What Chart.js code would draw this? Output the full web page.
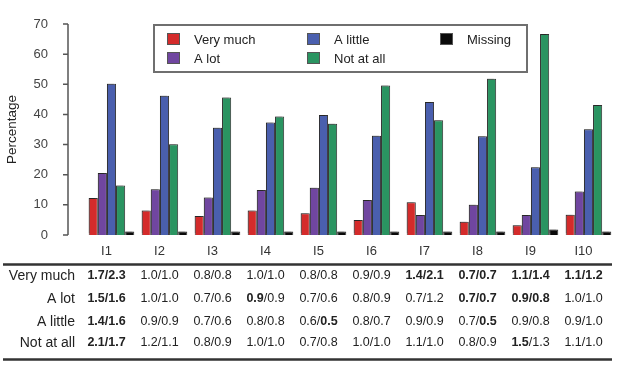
<!DOCTYPE html>
<html lang="en">
<head>
    <meta charset="UTF-8" />
    <title>Percentage by item</title>
    <script src="https://cdn.jsdelivr.net/npm/chart.js@4.4.1/dist/chart.umd.min.js"></script>
    <style>
        html, body { margin: 0; padding: 0; background: #fff; }
        #wrap { width: 618px; height: 367px; }
    </style>
</head>
<body>
    <div id="wrap"><canvas id="barChart"></canvas></div>

    <script>
        // categories and series (percent)
        const items = ['I1', 'I2', 'I3', 'I4', 'I5', 'I6', 'I7', 'I8', 'I9', 'I10'];
        const veryMuch = [12.3, 8.1, 6.3, 8.1, 7.2, 5.0, 10.9, 4.4, 3.2, 6.7];
        const aLot = [20.6, 15.2, 12.4, 14.9, 15.7, 11.6, 6.6, 10.0, 6.6, 14.4];
        const aLittle = [50.2, 46.2, 35.6, 37.3, 39.8, 32.9, 44.1, 32.8, 22.5, 35.1];
        const notAtAll = [16.4, 30.1, 45.6, 39.3, 36.9, 49.6, 38.1, 51.8, 66.7, 43.1];
        const missing = [1.2, 1.2, 1.2, 1.2, 1.2, 1.2, 1.2, 1.2, 1.8, 1.2];
        const yTicks = [0, 10, 20, 30, 40, 50, 60, 70];

        // table under the chart, "b" marks the bold half of a cell
        const rowLabels = ['Very much', 'A lot', 'A little', 'Not at all'];
        const veryMuchRatio = ['1.7/2.3', '1.0/1.0', '0.8/0.8', '1.0/1.0', '0.8/0.8', '0.9/0.9', '1.4/2.1', '0.7/0.7', '1.1/1.4', '1.1/1.2'];
        const aLotRatio = ['1.5/1.6', '1.0/1.0', '0.7/0.6', '0.9/0.9', '0.7/0.6', '0.8/0.9', '0.7/1.2', '0.7/0.7', '0.9/0.8', '1.0/1.0'];
        const aLittleRatio = ['1.4/1.6', '0.9/0.9', '0.7/0.6', '0.8/0.8', '0.6/0.5', '0.8/0.7', '0.9/0.9', '0.7/0.5', '0.9/0.8', '0.9/1.0'];
        const notAtAllRatio = ['2.1/1.7', '1.2/1.1', '0.8/0.9', '1.0/1.0', '0.7/0.8', '1.0/1.0', '1.1/1.0', '0.8/0.9', '1.5/1.3', '1.1/1.0'];
        const veryMuchBold = ['bb', '--', '--', '--', '--', '--', 'bb', 'bb', 'bb', 'bb'];
        const aLotBold = ['bb', '--', '--', 'b-', '--', '--', '--', 'bb', 'bb', '--'];
        const aLittleBold = ['bb', '--', '--', '--', '-b', '--', '--', '-b', '--', '--'];
        const notAtAllBold = ['bb', '--', '--', '--', '--', '--', '--', '--', 'b-', '--'];

        const FONT = '"Liberation Sans", Arial, sans-serif';
        const LABEL_SHIFT = -5;

        // legend box, laid out column by column
        const legendPlugin = {
            id: 'boxLegend',
            afterDraw(chart) {
                const ctx = chart.ctx;
                ctx.save();
                ctx.strokeStyle = '#6f6f6f';
                ctx.lineWidth = 2;
                ctx.strokeRect(154, 25, 373, 47);
                const cols = [167, 307, 440];
                const rows = [39, 58];
                ctx.font = '13px ' + FONT;
                ctx.textBaseline = 'middle';
                chart.data.datasets.forEach((ds, i) => {
                    const x = cols[Math.floor(i / 2)];
                    const y = rows[i % 2];
                    ctx.fillStyle = ds.backgroundColor;
                    ctx.fillRect(x, y - 6, 13, 12);
                    ctx.strokeStyle = '#555';
                    ctx.lineWidth = 1;
                    ctx.strokeRect(x + 0.5, y - 5.5, 12, 11);
                    ctx.fillStyle = '#222';
                    ctx.fillText(ds.label, x + 27, y + 1);
                });
                ctx.restore();
            }
        };

        // y axis line drawn left of the plot, with outward ticks
        const axisPlugin = {
            id: 'leftAxis',
            afterDraw(chart) {
                const ctx = chart.ctx;
                const y = chart.scales.y;
                const ax = 68;
                ctx.save();
                ctx.strokeStyle = '#555';
                ctx.lineWidth = 1.5;
                ctx.beginPath();
                ctx.moveTo(ax, y.getPixelForValue(70));
                ctx.lineTo(ax, y.getPixelForValue(0));
                yTicks.forEach(t => {
                    const py = y.getPixelForValue(t);
                    ctx.moveTo(ax - 5, py);
                    ctx.lineTo(ax, py);
                });
                ctx.stroke();
                ctx.restore();
            }
        };

        const tablePlugin = {
            id: 'ratioTable',
            afterDraw(chart) {
                const ctx = chart.ctx;
                const x = chart.scales.x;
                const values = [veryMuchRatio, aLotRatio, aLittleRatio, notAtAllRatio];
                const bolds = [veryMuchBold, aLotBold, aLittleBold, notAtAllBold];
                const rowY = [276, 299, 322, 343];
                ctx.save();
                ctx.strokeStyle = '#333';
                ctx.lineWidth = 2.5;
                ctx.beginPath();
                ctx.moveTo(3, 264.5); ctx.lineTo(612, 264.5);
                ctx.moveTo(3, 359.5); ctx.lineTo(612, 359.5);
                ctx.stroke();
                ctx.fillStyle = '#222';
                ctx.textBaseline = 'middle';
                rowLabels.forEach((lab, r) => {
                    ctx.font = '14px ' + FONT;
                    ctx.textAlign = 'right';
                    ctx.fillText(lab, 75, rowY[r]);
                    ctx.textAlign = 'left';
                    values[r].forEach((v, i) => {
                        const parts = v.split('/');
                        const segs = [
                            { t: parts[0], b: bolds[r][i][0] === 'b' },
                            { t: '/', b: bolds[r][i] === 'bb' },
                            { t: parts[1], b: bolds[r][i][1] === 'b' }
                        ];
                        let w = 0;
                        segs.forEach(s => {
                            ctx.font = (s.b ? 'bold ' : '') + '12.5px ' + FONT;
                            s.w = ctx.measureText(s.t).width;
                            w += s.w;
                        });
                        let px = x.getPixelForValue(i) + LABEL_SHIFT - w / 2;
                        segs.forEach(s => {
                            ctx.font = (s.b ? 'bold ' : '') + '12.5px ' + FONT;
                            ctx.fillText(s.t, px, rowY[r]);
                            px += s.w;
                        });
                    });
                });
                ctx.restore();
            }
        };

        const barShadow = {
            id: 'barShadow',
            beforeDatasetsDraw(chart) {
                const ctx = chart.ctx;
                ctx.save();
                ctx.shadowColor = 'rgba(0,0,0,0.22)';
                ctx.shadowOffsetX = -2;
                ctx.shadowOffsetY = -2;
                ctx.shadowBlur = 0;
            },
            afterDatasetsDraw(chart) {
                chart.ctx.restore();
            }
        };

        function series(label, data, color) {
            return {
                label: label,
                data: data,
                backgroundColor: color,
                borderColor: '#333',
                borderWidth: 1,
                barPercentage: 1,
                categoryPercentage: 0.86
            };
        }

        document.addEventListener('DOMContentLoaded', function () {
            const ctx = document.getElementById('barChart').getContext('2d');
            new Chart(ctx, {
                type: 'bar',
                data: {
                    labels: items,
                    datasets: [
                        series('Very much', veryMuch, '#d42b2b'),
                        series('A lot', aLot, '#7046a0'),
                        series('A little', aLittle, '#4a5fae'),
                        series('Not at all', notAtAll, '#2a9461'),
                        series('Missing', missing, '#0a0a0a')
                    ]
                },
                options: {
                    responsive: true,
                    maintainAspectRatio: false,
                    animation: false,
                    layout: { padding: { top: 24, right: 3, left: 0, bottom: 0 } },
                    plugins: {
                        legend: { display: false },
                        tooltip: { enabled: false }
                    },
                    scales: {
                        x: {
                            grid: { display: false, drawTicks: false },
                            border: { display: false },
                            ticks: {
                                font: { family: FONT, size: 13 },
                                color: '#333',
                                padding: 9,
                                labelOffset: LABEL_SHIFT,
                                maxRotation: 0
                            },
                            afterFit(scale) { scale.height = 132; }
                        },
                        y: {
                            min: 0,
                            max: 70,
                            grid: { display: false, drawTicks: false },
                            border: { display: false },
                            ticks: {
                                stepSize: 10,
                                font: { family: FONT, size: 13 },
                                color: '#444',
                                padding: 37
                            },
                            title: {
                                display: true,
                                text: 'Percentage',
                                font: { family: FONT, size: 13.5 },
                                color: '#222',
                                padding: { top: 4, bottom: 0 }
                            },
                            afterFit(scale) {
                                scale.width = 85;
                                // the big label padding should not push the plot down
                                scale.paddingTop = 0;
                                scale.paddingBottom = 0;
                            }
                        }
                    }
                },
                plugins: [barShadow, axisPlugin, legendPlugin, tablePlugin]
            });
        });
    </script>
</body>
</html>
